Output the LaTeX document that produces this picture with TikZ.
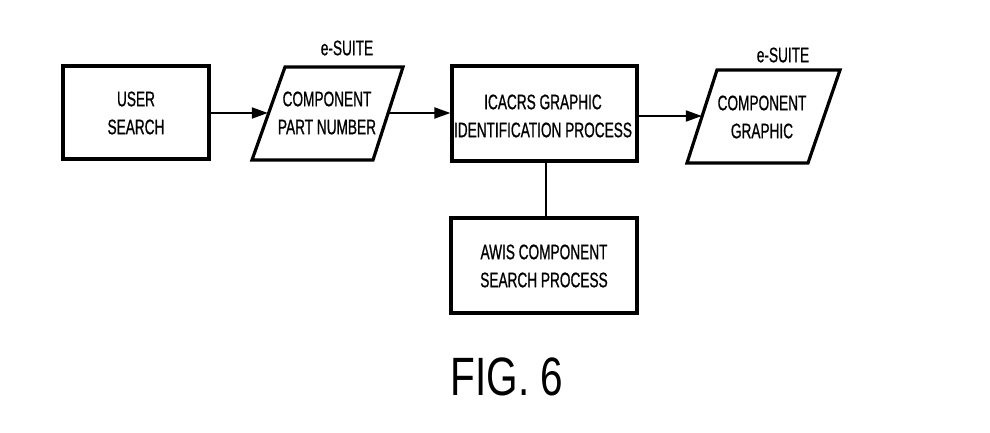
\documentclass[tikz,border=0pt]{standalone}
\usepackage{fontspec}
\usetikzlibrary{arrows.meta}
\newfontfamily\condfont[FakeStretch=0.65,FakeBold=0.8]{Liberation Sans}
\newfontfamily\figfont[FakeStretch=0.75]{Liberation Sans}
\tikzset{
  boxline/.style={line width=3.2pt, line join=miter},
  lbl/.style={font=\condfont\fontsize{21}{28}\selectfont, align=center, inner sep=0pt},
  conn/.style={line width=2pt},
  arr/.style={conn, -{Triangle[length=16pt,width=11pt]}},
  anchorbox/.style={draw=none, inner sep=0pt, minimum height=93pt}
}
\begin{document}
\begin{tikzpicture}[x=1pt,y=-1pt]
\useasboundingbox (0,0) rectangle (990,433);
% USER SEARCH
\node[boxline, draw, minimum width=146pt, minimum height=93pt, inner sep=0pt] (user) at (136,112.5) {};
\node[lbl] (usert) at (136,113) {USER\\SEARCH};
% parallelogram 1
\draw[boxline] (285,67) -- (403,67) -- (373,160) -- (252,160) -- cycle;
\node[anchorbox, minimum width=120pt] (cpn) at (328,113) {};
\node[lbl] (cpnt) at (327,113) {COMPONENT\\PART NUMBER};
\node[lbl] (es1) at (347,48) {e-SUITE};
% ICACRS
\node[boxline, draw, minimum width=185pt, minimum height=95pt, inner sep=0pt] (icacrs) at (544.5,113.5) {};
\node[lbl] (icacrst) at (543,116) {ICACRS GRAPHIC\\IDENTIFICATION PROCESS};
% parallelogram 2
\draw[boxline] (717,70) -- (840,70) -- (808,163) -- (687,163) -- cycle;
\node[anchorbox, minimum width=122pt] (cg) at (763,116) {};
\node[lbl] (cgt) at (762,117) {COMPONENT\\GRAPHIC};
\node[lbl] (es2) at (783,55) {e-SUITE};
% AWIS
\node[boxline, draw, minimum width=186pt, minimum height=95pt, inner sep=0pt] (awis) at (544,265.5) {};
\node[lbl] (awist) at (544,266) {AWIS COMPONENT\\SEARCH PROCESS};
% connectors
\draw[arr] (user.east |- 0,113) -- (cpn.west |- 0,113);
\draw[arr] (cpn.east |- 0,113) -- (icacrs.west |- 0,113);
\draw[arr] (icacrs.east |- 0,116) -- (cg.west |- 0,116);
\draw[conn] (icacrs.south -| 546,0) -- (awis.north -| 546,0);
% caption
\node[font=\figfont\fontsize{54}{60}\selectfont, inner sep=0pt] (fig) at (507,377) {FIG. 6};
\end{tikzpicture}
\end{document}
